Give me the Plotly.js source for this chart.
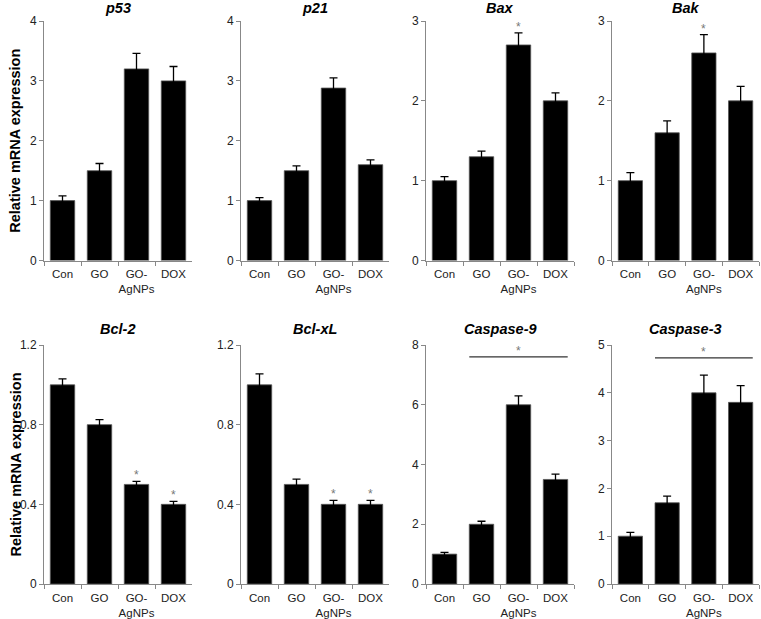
<!DOCTYPE html>
<html>
<head>
<meta charset="utf-8">
<script src="https://cdn.plot.ly/plotly-3.0.1.min.js"></script>
<style>
  html, body { margin: 0; padding: 0; background: #fff; }
  #chart { width: 761px; height: 619px; }
</style>
</head>
<body>
<div id="chart"></div>
<script>
// treatment groups (x categories) and their tick labels
const groups = ['Con', 'GO', 'GO-AgNPs', 'DOX'];
const groupLabels = ['Con', 'GO', 'GO-<br>AgNPs', 'DOX'];

// panel titles
const genes = ['p53', 'p21', 'Bax', 'Bak', 'Bcl-2', 'Bcl-xL', 'Caspase-9', 'Caspase-3'];

// relative mRNA expression (mean) and error per gene
const p53 = [1.0, 1.5, 3.2, 3.0];
const p53Err = [0.08, 0.12, 0.26, 0.24];
const p21 = [1.0, 1.5, 2.88, 1.6];
const p21Err = [0.05, 0.08, 0.17, 0.08];
const bax = [1.0, 1.3, 2.7, 2.0];
const baxErr = [0.05, 0.07, 0.15, 0.1];
const bak = [1.0, 1.6, 2.6, 2.0];
const bakErr = [0.1, 0.15, 0.23, 0.18];
const bcl2 = [1.0, 0.8, 0.5, 0.4];
const bcl2Err = [0.03, 0.025, 0.015, 0.015];
const bclxl = [1.0, 0.5, 0.4, 0.4];
const bclxlErr = [0.055, 0.027, 0.02, 0.02];
const casp9 = [1.0, 2.0, 6.0, 3.5];
const casp9Err = [0.06, 0.1, 0.3, 0.18];
const casp3 = [1.0, 1.7, 4.0, 3.8];
const casp3Err = [0.08, 0.14, 0.37, 0.35];

// significance marks above single bars
const baxStar = [false, false, true, false];
const bakStar = [false, false, true, false];
const bcl2Star = [false, false, true, true];
const bclxlStar = [false, false, true, true];
const noStar = [false, false, false, false];

// axis maxima and tick steps
const yMax = [4, 4, 3, 3, 1.2, 1.2, 8, 5];
const yStep = [1, 1, 1, 1, 0.4, 0.4, 2, 1];

// bracket lines spanning several bars
const casp9Line = { from: 'GO', to: 'DOX', y: 7.6 };
const casp3Line = { from: 'GO', to: 'DOX', y: 4.73 };

const values = [p53, p21, bax, bak, bcl2, bclxl, casp9, casp3];
const errors = [p53Err, p21Err, baxErr, bakErr, bcl2Err, bclxlErr, casp9Err, casp3Err];
const stars = [noStar, noStar, baxStar, bakStar, bcl2Star, bclxlStar, noStar, noStar];
const lines = [null, null, null, null, null, null, casp9Line, casp3Line];

const W = 761, H = 619;
const colPx = [[44, 192], [241, 389], [426, 574], [612, 759]];
const rowPx = [[21, 260.5], [345, 584]];
const titleY = [8, 329];
const bargap = 0.34;

const font = 'Liberation Sans, Arial, sans-serif';
const data = [];
const layout = {
  width: W, height: H,
  margin: { l: 0, r: 0, t: 0, b: 0 },
  paper_bgcolor: '#fff', plot_bgcolor: '#fff',
  showlegend: false,
  bargap: bargap,
  font: { family: font, size: 11, color: '#222' },
  annotations: [],
  shapes: []
};

genes.forEach((gene, i) => {
  const n = i + 1;
  const xa = n === 1 ? 'x' : 'x' + n;
  const ya = n === 1 ? 'y' : 'y' + n;
  const row = Math.floor(i / 4), col = i % 4;
  const xd = colPx[col].map(p => p / W);
  const yd = [1 - rowPx[row][1] / H, 1 - rowPx[row][0] / H];

  data.push({
    type: 'bar', x: groups, y: values[i], xaxis: xa, yaxis: ya,
    marker: { color: '#000', line: { color: '#555', width: 0.8 } },
    error_y: { type: 'data', array: errors[i], visible: true, color: '#000', thickness: 1.3, width: 4 },
    hoverinfo: 'x+y'
  });

  layout['xaxis' + (n === 1 ? '' : n)] = {
    domain: xd, anchor: ya, type: 'category',
    tickvals: groups, ticktext: groupLabels, tickangle: 0,
    tickson: 'boundaries', ticks: 'outside', ticklen: 4, tickcolor: '#888',
    ticklabelstandoff: 3,
    showline: true, linecolor: '#888', linewidth: 1,
    showgrid: false, zeroline: false, fixedrange: true,
    tickfont: { size: 11.5, color: '#222' }
  };
  layout['yaxis' + (n === 1 ? '' : n)] = {
    domain: yd, anchor: xa,
    range: [0, yMax[i]], dtick: yStep[i], tick0: 0,
    ticks: 'outside', ticklen: 4, tickcolor: '#888',
    showline: true, linecolor: '#888', linewidth: 1,
    showgrid: false, zeroline: false, fixedrange: true,
    tickfont: { size: 12, color: '#222' }
  };

  // panel title
  layout.annotations.push({
    text: gene, xref: xa + ' domain', x: 0.5, yref: 'paper', y: 1 - titleY[row] / H,
    xanchor: 'center', yanchor: 'middle', showarrow: false,
    font: { family: font, size: 14.5, weight: 'bold', style: 'italic', color: '#000' }
  });

  // asterisks above bars
  stars[i].forEach((s, k) => {
    if (!s) return;
    layout.annotations.push({
      text: '*', xref: xa, yref: ya, x: groups[k], y: values[i][k] + errors[i][k],
      yanchor: 'bottom', showarrow: false, yshift: -3,
      font: { family: font, size: 12, color: '#777' }
    });
  });

  // bracket line with asterisk
  const ln = lines[i];
  if (ln) {
    const half = (1 - bargap) / 2;
    const x0 = groups.indexOf(ln.from) - half;
    const x1 = groups.indexOf(ln.to) + half;
    layout.shapes.push({
      type: 'line', xref: xa, yref: ya, x0: x0, x1: x1, y0: ln.y, y1: ln.y,
      line: { color: '#333', width: 1.3 }
    });
    layout.annotations.push({
      text: '*', xref: xa, yref: ya, x: (x0 + x1) / 2, y: ln.y,
      yanchor: 'bottom', showarrow: false, yshift: -3,
      font: { family: font, size: 12, color: '#777' }
    });
  }
});

// shared y-axis titles, one per row
rowPx.forEach(r => {
  layout.annotations.push({
    text: 'Relative mRNA expression', xref: 'paper', yref: 'paper',
    x: 15 / W, y: 1 - (r[0] + r[1]) / 2 / H, textangle: -90,
    xanchor: 'center', yanchor: 'middle', showarrow: false,
    font: { family: font, size: 14.5, weight: 'bold', color: '#000' }
  });
});

Plotly.newPlot('chart', data, layout, { staticPlot: true, displayModeBar: false });
</script>
</body>
</html>
